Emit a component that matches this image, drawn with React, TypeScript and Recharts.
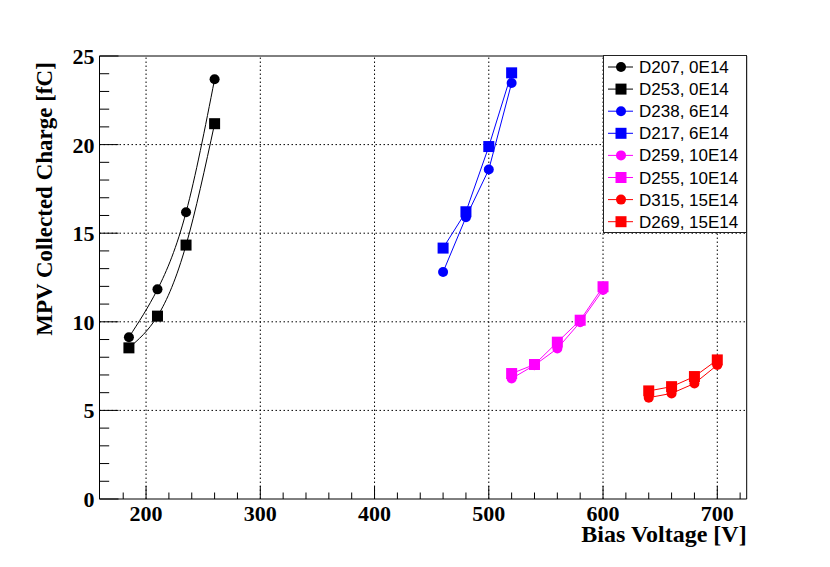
import React from 'react';
import { LineChart, Line, XAxis, YAxis, ReferenceLine } from 'recharts';

// bias voltage per group
const voltsBlack = [185, 210, 235, 260];
const voltsBlue = [460, 480, 500, 520];
const voltsMagenta = [520, 540, 560, 580, 600];
const voltsRed = [640, 660, 680, 700];

// MPV collected charge [fC]
const d207 = [9.13, 11.83, 16.18, 23.69];
const d253 = [8.53, 10.32, 14.33, 21.18];
const d238 = [12.81, 15.9, 18.59, 23.48];
const d217 = [14.16, 16.21, 19.89, 24.05];
const d259 = [6.8, 7.55, 8.49, 9.98, 11.8];
const d255 = [7.08, 7.59, 8.85, 10.09, 11.98];
const d315 = [5.72, 5.96, 6.52, 7.56];
const d269 = [6.1, 6.34, 6.91, 7.85];

const xTicks = [180, 200, 220, 240, 260, 280, 300, 320, 340, 360, 380, 400, 420, 440, 460, 480, 500, 520, 540, 560, 580, 600, 620, 640, 660, 680, 700, 720];
const yTicks = [0, 1, 2, 3, 4, 5, 6, 7, 8, 9, 10, 11, 12, 13, 14, 15, 16, 17, 18, 19, 20, 21, 22, 23, 24, 25];
const xGrid = [200, 300, 400, 500, 600, 700];
const yGrid = [5, 10, 15, 20];

const X_DOMAIN: [number, number] = [159.25, 725.75];
const Y_DOMAIN: [number, number] = [0, 25];

type Series = {
  name: string;
  x: number[];
  y: number[];
  color: string;
  shape: 'circle' | 'square';
  curve: 'natural' | 'linear';
};

const series: Series[] = [
  { name: 'D207, 0E14', x: voltsBlack, y: d207, color: '#000000', shape: 'circle', curve: 'natural' },
  { name: 'D253, 0E14', x: voltsBlack, y: d253, color: '#000000', shape: 'square', curve: 'natural' },
  { name: 'D238, 6E14', x: voltsBlue, y: d238, color: '#0000ff', shape: 'circle', curve: 'linear' },
  { name: 'D217, 6E14', x: voltsBlue, y: d217, color: '#0000ff', shape: 'square', curve: 'linear' },
  { name: 'D259, 10E14', x: voltsMagenta, y: d259, color: '#ff00ff', shape: 'circle', curve: 'linear' },
  { name: 'D255, 10E14', x: voltsMagenta, y: d255, color: '#ff00ff', shape: 'square', curve: 'linear' },
  { name: 'D315, 15E14', x: voltsRed, y: d315, color: '#ff0000', shape: 'circle', curve: 'linear' },
  { name: 'D269, 15E14', x: voltsRed, y: d269, color: '#ff0000', shape: 'square', curve: 'linear' },
];

const serif = '"Liberation Serif", "Times New Roman", serif';
const sans = '"Liberation Sans", Arial, sans-serif';

const Marker = ({ cx, cy, color, shape }: { cx: number; cy: number; color: string; shape: string }) =>
  shape === 'circle' ? (
    <circle cx={cx} cy={cy} r={5} fill={color} stroke="none" />
  ) : (
    <rect x={cx - 5.5} y={cy - 5.5} width={11} height={11} fill={color} stroke="none" />
  );

const XTick = (props: any) => {
  const { x, y, payload } = props;
  const major = payload.value % 100 === 0;
  return (
    <g>
      <line x1={x} y1={y} x2={x} y2={y - (major ? 13 : 6.5)} stroke="#000" strokeWidth={1} />
      {major && (
        <text x={x} y={y + 22} textAnchor="middle" fontFamily={serif} fontWeight="bold" fontSize={22} fill="#000">
          {payload.value}
        </text>
      )}
    </g>
  );
};

const YTick = (props: any) => {
  const { x, y, payload } = props;
  const major = payload.value % 5 === 0;
  return (
    <g>
      <line x1={x} y1={y} x2={x + (major ? 19 : 9.7)} y2={y} stroke="#000" strokeWidth={1} />
      {major && (
        <text x={x - 5} y={y + 8} textAnchor="end" fontFamily={serif} fontWeight="bold" fontSize={22} fill="#000">
          {payload.value}
        </text>
      )}
    </g>
  );
};

const LegendBox = () => (
  <div
    style={{
      position: 'absolute',
      left: 603,
      top: 55,
      width: 142,
      height: 176,
      border: '1.5px solid #222',
      background: '#fff',
    }}
  >
    <svg width={142} height={176}>
      {series.map((s, i) => {
        const cy = 11 + i * 22.1;
        return (
          <g key={s.name}>
            <line x1={4} x2={29} y1={cy} y2={cy} stroke={s.color} strokeWidth={1} />
            <Marker cx={17} cy={cy} color={s.color} shape={s.shape} />
            <text x={35} y={cy + 6} fontFamily={sans} fontSize={17} fill="#000">
              {s.name}
            </text>
          </g>
        );
      })}
    </svg>
  </div>
);

export default function App() {
  return (
    <div style={{ position: 'absolute', left: 0, top: 0, width: 830, height: 567, background: '#fff' }}>
      <LineChart width={830} height={567} margin={{ top: 56, right: 83.3, bottom: 38, left: 49.5 }}>
        <XAxis
          type="number"
          dataKey="x"
          domain={X_DOMAIN}
          allowDataOverflow
          ticks={xTicks}
          interval={0}
          tickSize={0}
          tickMargin={0}
          tickLine={false}
          tick={<XTick />}
          axisLine={{ stroke: '#000', strokeWidth: 1 }}
          height={30}
        />
        <YAxis
          type="number"
          dataKey="y"
          domain={Y_DOMAIN}
          allowDataOverflow
          ticks={yTicks}
          interval={0}
          tickSize={0}
          tickMargin={0}
          tickLine={false}
          tick={<YTick />}
          axisLine={{ stroke: '#000', strokeWidth: 1 }}
          width={50}
        />
        {xGrid.map((v) => (
          <ReferenceLine key={'gx' + v} x={v} stroke="#000" strokeDasharray="1.5 2.5" />
        ))}
        {yGrid.map((v) => (
          <ReferenceLine key={'gy' + v} y={v} stroke="#000" strokeDasharray="1.5 2.5" />
        ))}
        <ReferenceLine y={Y_DOMAIN[1]} stroke="#000" strokeWidth={1} />
        <ReferenceLine x={X_DOMAIN[1]} stroke="#000" strokeWidth={1} />
        {series.map((s) => (
          <Line
            key={s.name}
            name={s.name}
            data={s.x.map((x, i) => ({ x, y: s.y[i] }))}
            dataKey="y"
            type={s.curve}
            stroke={s.color}
            strokeWidth={1}
            isAnimationActive={false}
            dot={(p: any) => <Marker key={s.name + p.index} cx={p.cx} cy={p.cy} color={s.color} shape={s.shape} />}
            activeDot={false}
          />
        ))}
        <text
          x={746.7}
          y={542}
          textAnchor="end"
          fontFamily={serif}
          fontWeight="bold"
          fontSize={24}
          fill="#000"
        >
          Bias Voltage [V]
        </text>
        <text
          x={52}
          y={199}
          transform="rotate(-90 52 199)"
          textAnchor="middle"
          fontFamily={serif}
          fontWeight="bold"
          fontSize={23}
          fill="#000"
        >
          MPV Collected Charge [fC]
        </text>
      </LineChart>
      <LegendBox />
    </div>
  );
}
